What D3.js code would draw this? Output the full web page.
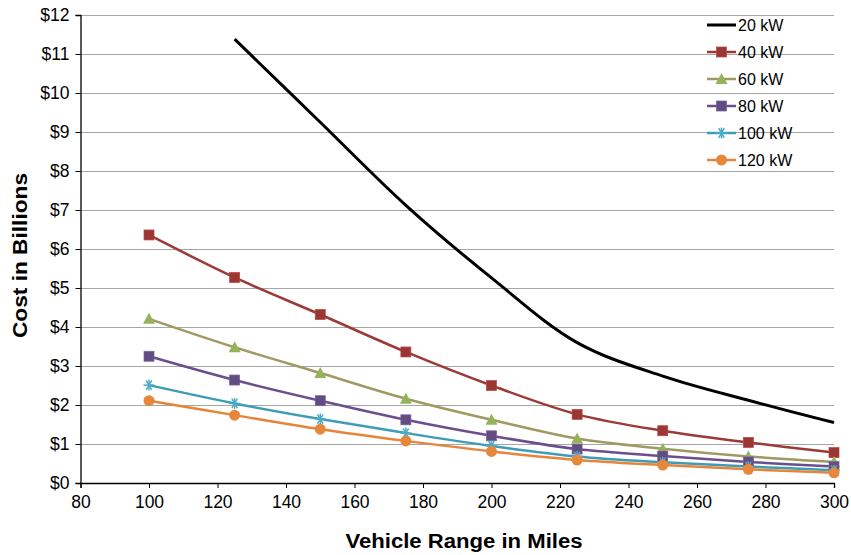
<!DOCTYPE html>
<html>
<head>
<meta charset="utf-8">
<script src="https://cdn.jsdelivr.net/npm/d3@7"></script>
<style>
  body { margin: 0; background: #fff; }
  text { font-family: "Liberation Sans", Arial, sans-serif; fill: #000; }
</style>
</head>
<body>
<div id="chart"></div>
<script>
var ranges = [100, 125, 150, 175, 200, 225, 250, 275, 300];
var kw20  = [null, 11.38, 9.25, 7.12, 5.26, 3.6, 2.74, 2.12, 1.55];
var kw40  = [6.36, 5.27, 4.32, 3.36, 2.5, 1.76, 1.34, 1.04, 0.78];
var kw60  = [4.21, 3.48, 2.82, 2.16, 1.62, 1.14, 0.88, 0.68, 0.54];
var kw80  = [3.25, 2.64, 2.11, 1.62, 1.21, 0.87, 0.69, 0.54, 0.42];
var kw100 = [2.51, 2.04, 1.64, 1.28, 0.95, 0.68, 0.53, 0.42, 0.33];
var kw120 = [2.11, 1.74, 1.38, 1.08, 0.81, 0.59, 0.46, 0.35, 0.26];
var seriesNames = ["20 kW", "40 kW", "60 kW", "80 kW", "100 kW", "120 kW"];
var xTicks = [80, 100, 120, 140, 160, 180, 200, 220, 240, 260, 280, 300];
var yTicks = [0, 1, 2, 3, 4, 5, 6, 7, 8, 9, 10, 11, 12];

var width = 851, height = 555;
var margin = {top: 15, right: 17, bottom: 72, left: 80.5};

var series = [
  {name: seriesNames[0], values: kw20,  line: "#000000", fill: "#000000", marker: "none"},
  {name: seriesNames[1], values: kw40,  line: "#9B3A37", fill: "#983734", marker: "square"},
  {name: seriesNames[2], values: kw60,  line: "#A09A62", fill: "#94B35A", marker: "triangle"},
  {name: seriesNames[3], values: kw80,  line: "#6A4E8E", fill: "#624C80", marker: "square"},
  {name: seriesNames[4], values: kw100, line: "#3E9DB6", fill: "#4BACC6", marker: "star"},
  {name: seriesNames[5], values: kw120, line: "#E6853A", fill: "#E6883C", marker: "circle"}
];

var svg = d3.select("#chart").append("svg")
    .attr("width", width)
    .attr("height", height);

var x = d3.scaleLinear().domain([80, 300]).range([margin.left, width - margin.right]);
var y = d3.scaleLinear().domain([0, 12]).range([height - margin.bottom, margin.top]);

// gridlines
svg.append("g")
    .selectAll("line")
    .data(yTicks.filter(d => d > 0))
    .enter().append("line")
    .attr("x1", x(80)).attr("x2", x(300))
    .attr("y1", d => Math.round(y(d)) + 0.5)
    .attr("y2", d => Math.round(y(d)) + 0.5)
    .attr("stroke", "#A6A6A6")
    .attr("stroke-width", 1);

// axes
var yAxis = svg.append("g")
    .attr("transform", "translate(" + x(80) + ",0)")
    .call(d3.axisLeft(y).tickValues(yTicks).tickSize(5).tickPadding(6)
        .tickFormat(d => "$" + d));
yAxis.selectAll("text").style("font-size", "17.5px");

var xAxis = svg.append("g")
    .attr("transform", "translate(0," + y(0) + ")")
    .call(d3.axisBottom(x).tickValues(xTicks).tickSize(5).tickPadding(8));
xAxis.selectAll("text").style("font-size", "17.5px");

[yAxis, xAxis].forEach(function(a) {
  a.select(".domain").attr("stroke", "#000").attr("stroke-width", 1.3);
  a.selectAll(".tick line").attr("stroke", "#000");
});

// axis titles
svg.append("text")
    .attr("x", 464)
    .attr("y", 548)
    .attr("text-anchor", "middle")
    .attr("textLength", 237)
    .attr("lengthAdjust", "spacingAndGlyphs")
    .style("font-size", "20px")
    .style("font-weight", "bold")
    .text("Vehicle Range in Miles");

svg.append("text")
    .attr("transform", "translate(27,255.5) rotate(-90)")
    .attr("text-anchor", "middle")
    .attr("textLength", 165)
    .attr("lengthAdjust", "spacingAndGlyphs")
    .style("font-size", "21px")
    .style("font-weight", "bold")
    .text("Cost in Billions");

// lines
var line = d3.line()
    .defined(d => d[1] !== null)
    .x(d => x(d[0]))
    .y(d => y(d[1]))
    .curve(d3.curveCatmullRom.alpha(0.5));

series.forEach(function(s) {
  var pts = ranges.map((r, i) => [r, s.values[i]]);
  svg.append("path")
      .datum(pts)
      .attr("fill", "none")
      .attr("stroke", s.line)
      .attr("stroke-width", s.marker === "none" ? 3 : 2.5)
      .attr("d", line);
});

function marker(g, s, cx, cy) {
  if (s.marker === "square") {
    g.append("rect")
        .attr("x", cx - 5).attr("y", cy - 5)
        .attr("width", 10).attr("height", 10)
        .attr("fill", s.fill)
        .attr("stroke", d3.color(s.fill).brighter(0.6))
        .attr("stroke-width", 0.7);
  } else if (s.marker === "triangle") {
    g.append("path")
        .attr("d", "M" + cx + "," + (cy - 6) + "L" + (cx + 6) + "," + (cy + 5) + "L" + (cx - 6) + "," + (cy + 5) + "Z")
        .attr("fill", s.fill);
  } else if (s.marker === "circle") {
    g.append("circle")
        .attr("cx", cx).attr("cy", cy).attr("r", 5.5)
        .attr("fill", s.fill);
  } else if (s.marker === "star") {
    var r = 5.5;
    [0, 60, 120].forEach(function(a) {
      var rad = a * Math.PI / 180;
      g.append("line")
          .attr("x1", cx - r * Math.cos(rad)).attr("y1", cy - r * Math.sin(rad))
          .attr("x2", cx + r * Math.cos(rad)).attr("y2", cy + r * Math.sin(rad))
          .attr("stroke", s.fill).attr("stroke-width", 1.5);
    });
    g.append("line")
        .attr("x1", cx).attr("y1", cy - r).attr("x2", cx).attr("y2", cy + r)
        .attr("stroke", s.fill).attr("stroke-width", 1.5);
  }
}

series.forEach(function(s) {
  if (s.marker === "none") return;
  var g = svg.append("g");
  ranges.forEach(function(r, i) {
    if (s.values[i] !== null) marker(g, s, x(r), y(s.values[i]));
  });
});

// legend
var legend = svg.append("g");
series.forEach(function(s, i) {
  var ly = 25 + i * 27;
  var g = legend.append("g");
  g.append("line")
      .attr("x1", 707).attr("x2", 736)
      .attr("y1", ly).attr("y2", ly)
      .attr("stroke", s.line)
      .attr("stroke-width", s.marker === "none" ? 3 : 2.5);
  marker(g, s, 721.5, ly);
  g.append("text")
      .attr("x", 738).attr("y", ly)
      .attr("dy", "0.35em")
      .style("font-size", "16px")
      .text(s.name);
});
</script>
</body>
</html>
